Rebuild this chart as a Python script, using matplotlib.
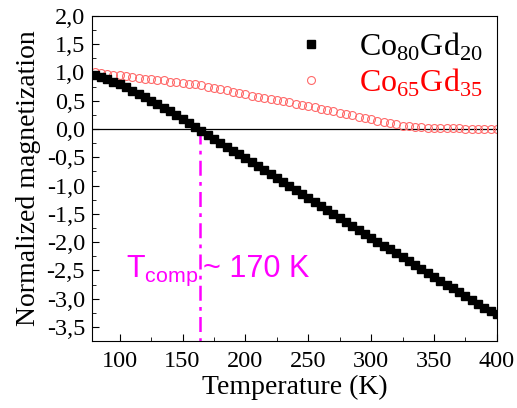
import numpy as np
import matplotlib
matplotlib.use('Agg')
import matplotlib.pyplot as plt
from matplotlib.ticker import MultipleLocator, FuncFormatter

plt.rcParams['font.family'] = 'Liberation Serif'
plt.rcParams['mathtext.fontset'] = 'custom'
plt.rcParams['mathtext.rm'] = 'Liberation Serif'
plt.rcParams['mathtext.sf'] = 'Liberation Sans'
plt.rcParams['axes.unicode_minus'] = False

temp = np.arange(80, 401, 5)

m_co80gd20 = [
    0.96, 0.92, 0.88, 0.84, 0.79, 0.74, 0.68, 0.62, 0.56, 0.50,
    0.44, 0.37, 0.31, 0.24, 0.17, 0.10, 0.03, -0.04, -0.11, -0.18,
    -0.25, -0.32, -0.39, -0.45, -0.52, -0.59, -0.66, -0.73, -0.80, -0.87,
    -0.94, -1.01, -1.08, -1.15, -1.22, -1.29, -1.36, -1.43, -1.50, -1.57,
    -1.64, -1.71, -1.78, -1.85, -1.92, -1.99, -2.06, -2.12, -2.19, -2.26,
    -2.33, -2.40, -2.47, -2.54, -2.61, -2.68, -2.75, -2.81, -2.88, -2.95,
    -3.02, -3.09, -3.16, -3.22, -3.27,
]

m_co65gd35 = [
    1.00, 0.99, 0.98, 0.96, 0.95, 0.94, 0.92, 0.91, 0.89, 0.88,
    0.87, 0.86, 0.84, 0.83, 0.82, 0.80, 0.79, 0.77, 0.75, 0.73,
    0.71, 0.69, 0.66, 0.64, 0.62, 0.59, 0.57, 0.55, 0.53, 0.51,
    0.49, 0.47, 0.45, 0.43, 0.41, 0.39, 0.36, 0.34, 0.31, 0.29,
    0.26, 0.24, 0.22, 0.20, 0.17, 0.15, 0.13, 0.10, 0.08, 0.06,
    0.05, 0.04, 0.03, 0.02, 0.02, 0.01, 0.01, 0.01, 0.01, 0.00,
    0.00, 0.00, 0.00, 0.00, 0.00,
]

t_comp = 164


def comma(v, pos):
    return f'{v:.1f}'.replace('.', ',')


fig = plt.figure(figsize=(5.17, 4.08), dpi=100)
ax = fig.add_axes([0.178, 0.164, 0.783, 0.797])

ax.axhline(0, color='black', lw=0.9, zorder=1)
ax.plot(temp, m_co80gd20, 's', color='black', ms=6, ls='none',
        label=r'Co$_{80}$Gd$_{20}$', zorder=3)
ax.plot(temp, m_co65gd35, 'o', mfc='none', mec='#ff6a6a', mew=0.8, ms=5.7,
        ls='none', label=r'Co$_{65}$Gd$_{35}$', zorder=2)
ax.plot([t_comp, t_comp], [0, -3.75], color='magenta', lw=1.8,
        ls=(0, (6, 2.5, 1.5, 2.5)), zorder=2)

ax.text(t_comp - 1.5, -2.62, r'$\mathsf{T_{comp}}$', color='magenta',
        fontsize=22, ha='right', va='baseline')
ax.text(t_comp + 2, -2.62, '~ 170 K', color='magenta', fontsize=22,
        family='Liberation Sans', ha='left', va='baseline')

ax.set_xlim(78, 400)
ax.set_ylim(-3.75, 2.0)
ax.xaxis.set_major_locator(MultipleLocator(50))
ax.xaxis.set_minor_locator(MultipleLocator(25))
ax.yaxis.set_major_locator(MultipleLocator(0.5))
ax.yaxis.set_minor_locator(MultipleLocator(0.25))
ax.yaxis.set_major_formatter(FuncFormatter(comma))
ax.tick_params(which='both', direction='in', labelsize=17.5)
ax.tick_params(axis='x', pad=7)
ax.tick_params(axis='y', pad=5)
ax.tick_params(which='major', length=5)
ax.tick_params(which='minor', length=3)

ax.set_xlabel('Temperature (K)', fontsize=20, labelpad=2)
ax.set_ylabel('Normalized magnetization', fontsize=20, labelpad=4)

leg = ax.legend(loc='upper right', frameon=False, fontsize=23,
                handletextpad=0.9, labelspacing=0.12, borderaxespad=0.05,
                handlelength=1.2, markerscale=1.0)
leg.get_texts()[1].set_color('red')

fig.savefig('out.png', dpi=100)
